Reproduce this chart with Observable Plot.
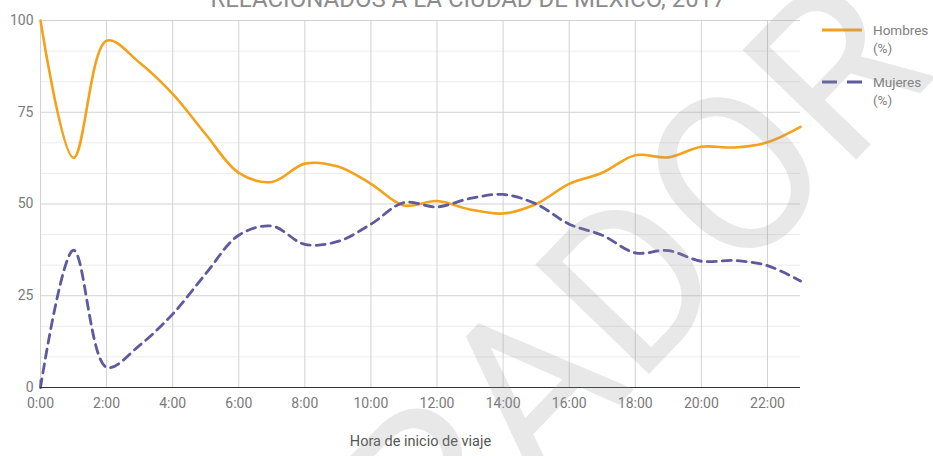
<!DOCTYPE html>
<html><head><meta charset="utf-8">
<script src="https://cdn.jsdelivr.net/npm/d3@7"></script>
<script src="https://cdn.jsdelivr.net/npm/@observablehq/plot@0.6"></script>
<style>
body{margin:0;background:#fff;font-family:Roboto,sans-serif;}
#wrap{position:relative;width:933px;height:456px;overflow:hidden;}
#overlay{position:absolute;left:0;top:0;pointer-events:none;}
</style></head>
<body><div id="wrap"></div>
<script>
const hours = d3.range(0, 24);
const tickHours = [0,2,4,6,8,10,12,14,16,18,20,22];
const tickLabels = ["0:00","2:00","4:00","6:00","8:00","10:00","12:00","14:00","16:00","18:00","20:00","22:00"];
const yTicks = [0,25,50,75,100];
const hombres = [100,62.6,94.5,88.5,80,69,58.5,56,61,60.2,55.5,49.6,50.8,48.5,47.4,50,55.5,58.5,63.3,62.7,65.6,65.4,66.8,71];
const mujeres = [0,37.4,5.5,11.5,20,31,41.5,44,39,39.8,44.5,50.4,49.2,51.5,52.6,50,44.5,41.5,36.7,37.3,34.4,34.6,33.2,29];
const seriesNames = ["Hombres (%)","Mujeres (%)"];
const title = "RELACIONADOS A LA CIUDAD DE MÉXICO, 2017";
const xLabel = "Hora de inicio de viaje";
const watermark = "BORRADOR";

const rows = hours.map((h,i)=>({h, hombres:hombres[i], mujeres:mujeres[i]}));
const minorY = d3.range(0, 100.01, 25/3).filter(v => !yTicks.some(t => Math.abs(t-v)<0.01));
const ORANGE = "#f4a21c", PURPLE = "#5d5a9e";

const chart = Plot.plot({
  width: 933, height: 456,
  marginLeft: 40, marginRight: 133, marginTop: 20, marginBottom: 69,
  style: {fontFamily: "Roboto, sans-serif", fontSize: "14px", color: "#7a7a7a", background: "#fff"},
  x: {domain: [0,23]},
  y: {domain: [0,100]},
  marks: [
    Plot.ruleY(minorY, {stroke: "#ececec", strokeWidth: 1, strokeOpacity: 1}),
    Plot.ruleY(yTicks.filter(t=>t>0), {stroke: "#d2d2d2", strokeWidth: 1, strokeOpacity: 1}),
    Plot.ruleX(tickHours, {stroke: "#d2d2d2", strokeWidth: 1, strokeOpacity: 1}),
    Plot.axisX({ticks: tickHours, tickFormat: (d)=>tickLabels[tickHours.indexOf(d)], tickSize: 0, tickPadding: 11, label: null, fill: "#7a7a7a"}),
    Plot.axisY({ticks: yTicks, tickSize: 0, tickPadding: 7, label: null, fill: "#7a7a7a"}),
    Plot.line(rows, {x: "h", y: "hombres", stroke: ORANGE, strokeWidth: 2.6, curve: "catmull-rom"}),
    Plot.line(rows, {x: "h", y: "mujeres", stroke: PURPLE, strokeWidth: 2.8, strokeDasharray: "9,6", curve: "catmull-rom"}),
    Plot.ruleY([0], {stroke: "#333", strokeWidth: 1.2}),
    Plot.ruleX([0], {y1: 0, y2: 2, stroke: PURPLE, strokeWidth: 2}),
    Plot.text([xLabel], {frameAnchor: "bottom", dy: 58, fill: "#555", fontSize: 14.5})
  ]
});
document.getElementById("wrap").appendChild(chart);

// overlay: title (cut off at the top edge), legend, watermark
const ov = d3.select("#wrap").append("svg").attr("id","overlay").attr("width",933).attr("height",456)
  .style("font-family","Roboto, sans-serif");
ov.append("text").attr("x",468).attr("y",7).attr("text-anchor","middle")
  .attr("font-size",24).attr("fill","#8c8c8c").text(title);

const leg = ov.append("g").attr("font-size",13.5).attr("fill","#808080");
leg.append("line").attr("x1",822).attr("x2",862).attr("y1",30).attr("y2",30).attr("stroke",ORANGE).attr("stroke-width",3);
leg.append("text").attr("x",873).attr("y",30).attr("dy","0.35em").text(seriesNames[0].split(" ")[0]);
leg.append("text").attr("x",873).attr("y",48).attr("dy","0.35em").text(seriesNames[0].split(" ")[1]);
leg.append("line").attr("x1",822).attr("x2",862).attr("y1",82).attr("y2",82).attr("stroke",PURPLE).attr("stroke-width",3).attr("stroke-dasharray","15,10");
leg.append("text").attr("x",873).attr("y",82).attr("dy","0.35em").text(seriesNames[1].split(" ")[0]);
leg.append("text").attr("x",873).attr("y",100).attr("dy","0.35em").text(seriesNames[1].split(" ")[1]);

ov.append("text").attr("transform","translate(485,432) rotate(-46)")
  .attr("text-anchor","middle").attr("dy","0.35em").attr("font-size",222)
  .attr("fill","rgb(150,150,150)").attr("fill-opacity",0.22).text(watermark);
</script></body></html>
